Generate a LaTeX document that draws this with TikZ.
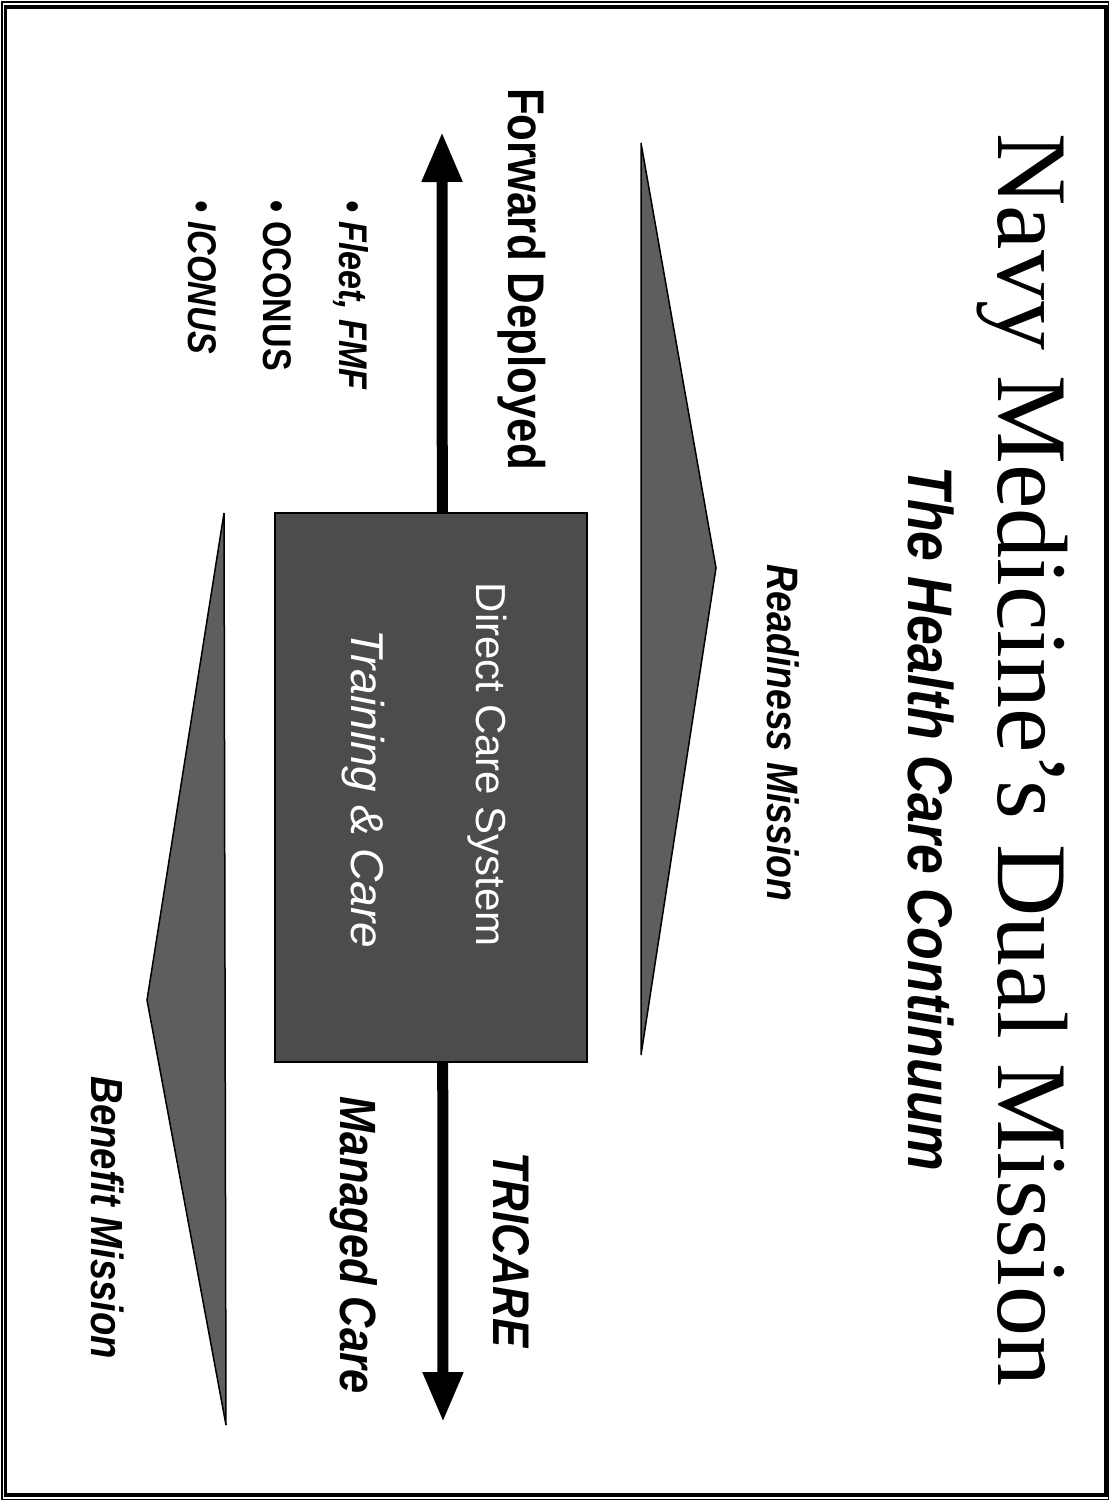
\documentclass[tikz,border=0pt]{standalone}
\usepackage{fontspec}
\setmainfont{Liberation Serif}
% narrow Helvetica-like face for the labels, plain one for the box text
\newfontfamily\narrowsf[FakeStretch=0.85]{Liberation Sans}
\newfontfamily\plainsf{Liberation Sans}
\usetikzlibrary{arrows.meta}
\definecolor{boxgray}{gray}{0.3}
\definecolor{wedgegray}{gray}{0.37}

\begin{document}
\begin{tikzpicture}[x=1pt, y=-1pt,
  txt/.style={rotate=-90, inner sep=0pt, anchor=base},
  heading/.style={txt, font=\fontsize{100}{100}\selectfont},
  caption/.style={txt, font=\narrowsf\bfseries\itshape\fontsize{#1}{#1}\selectfont},
  uprightcap/.style={txt, font=\narrowsf\bfseries\fontsize{#1}{#1}\selectfont},
  boxtext/.style={txt, text=white, font=\plainsf\fontsize{#1}{#1}\selectfont},
  boxitalic/.style={txt, text=white, font=\plainsf\itshape\fontsize{#1}{#1}\selectfont},
  wedge/.style={fill=wedgegray, draw=black, line width=1.5pt, line join=miter},
  dcsbox/.style={draw=black, fill=boxgray, line width=2pt, inner sep=0pt},
  continuum/.style={line width=11pt,
    {Triangle[length=50pt, width=38pt]}-{Triangle[length=50pt, width=38pt]}}
]
\useasboundingbox (0,0) rectangle (1110,1501);

% page frame
\draw[line width=1.2pt] (2,2) rectangle (1108.5,1499.5);
\draw[line width=3.5pt] (5.5,7) rectangle (1106,1495);

% headings
\node[heading] (title) at (998,760) {Navy Medicine’s Dual Mission};
\node[caption=63] (subtitle) at (908,819) {The Health Care Continuum};

% readiness wedge and benefit wedge
\path[wedge] (641,143) -- (716,568) -- (641,1055) -- cycle;
\path[wedge] (224,513) -- (147,1000) -- (226,1425) -- cycle;
\node[caption=44] (readiness) at (767,733) {Readiness Mission};
\node[caption=45] (benefit) at (91,1218) {Benefit Mission};

% the continuum arrow, running behind the direct care box
\coordinate (fwdtip) at (442,132);
\coordinate (bentip) at (443,1422);
\draw[continuum] (fwdtip) -- (bentip);

\node[dcsbox, minimum width=312pt, minimum height=549pt] (dcs) at (431,787.5) {};
\node[boxtext=42] (direct) at (476,765) {Direct Care System};
\node[boxitalic=46] (training) at (351,789) {Training \& Care};

% forward deployed side
\node[uprightcap=51.5] (forward) at (508,279) {Forward Deployed};
\node[caption=40, anchor=base west] (fleet) at (339,200) {• Fleet, FMF};
\node[uprightcap=40, anchor=base west] (oconus) at (263,200) {• OCONUS};
\node[caption=40, anchor=base west] (iconus) at (188,200) {• ICONUS};

% managed care side
\node[caption=51.5] (tricare) at (493,1250) {TRICARE};
\node[caption=51] (managed) at (340,1245) {Managed Care};
\end{tikzpicture}
\end{document}
